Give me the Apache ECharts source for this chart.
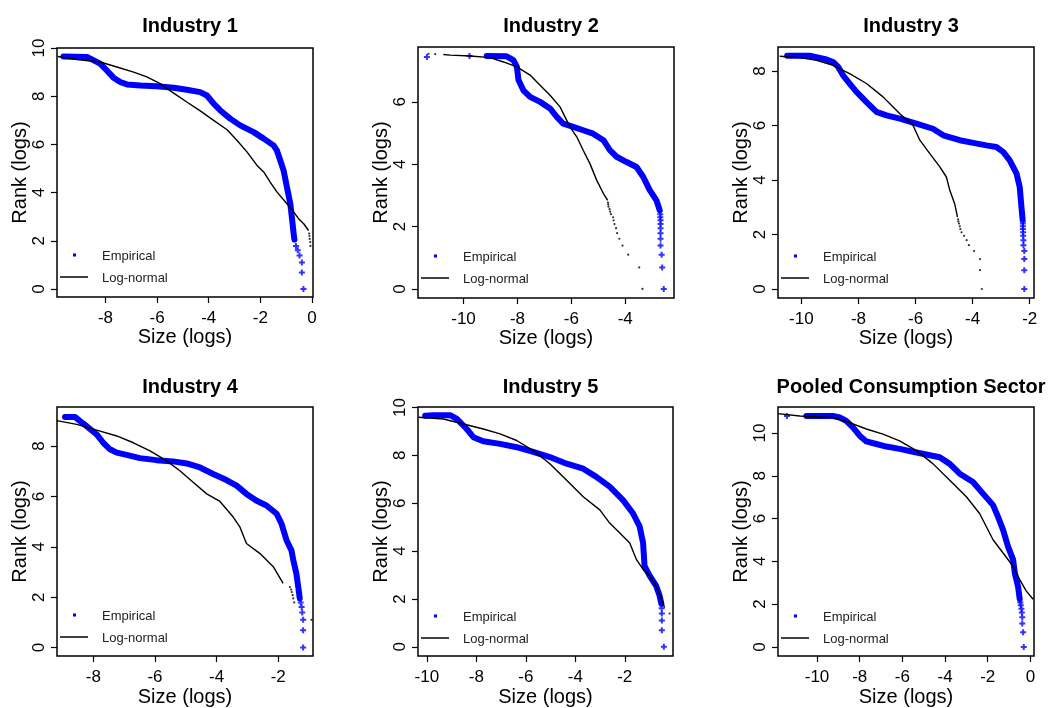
<!DOCTYPE html>
<html><head><meta charset="utf-8">
<script src="https://cdn.jsdelivr.net/npm/echarts@6/dist/echarts.min.js"></script>
<style>html,body{margin:0;padding:0;background:#fff}#chart{width:1049px;height:708px}</style>
</head><body><div id="chart"></div>
<script>
// ---------- DATA ----------
const panelTitles = ['Industry 1','Industry 2','Industry 3','Industry 4','Industry 5','Pooled Consumption Sector'];
const xAxisName = 'Size (logs)';
const yAxisName = 'Rank (logs)';
const legendNames = ['Empirical','Log-normal'];

const xTicks = [[-8,-6,-4,-2,0],[-10,-8,-6,-4],[-10,-8,-6,-4,-2],[-8,-6,-4,-2],[-10,-8,-6,-4,-2],[-10,-8,-6,-4,-2,0]];
const yTicks = [[0,2,4,6,8,10],[0,2,4,6],[0,2,4,6,8],[0,2,4,6,8],[0,2,4,6,8,10],[0,2,4,6,8,10]];

const emp1 = [[-9.63,9.65],[-8.72,9.63],[-8.21,9.35],[-7.95,9.07],[-7.69,8.77],[-7.43,8.59],[-7.17,8.49],[-6.65,8.44],[-6.01,8.41],[-5.36,8.35],[-4.85,8.27],[-4.33,8.17],[-4.07,8.03],[-3.81,7.69],[-3.55,7.41],[-3.17,7.07],[-2.78,6.79],[-2.26,6.51],[-1.87,6.24],[-1.49,5.96],[-1.36,5.75],[-1.23,5.34],[-1.10,4.92],[-0.97,4.23],[-0.84,3.54],[-0.78,2.99],[-0.71,2.30],[-0.68,2.05]];
const empTail1 = [[-0.62,1.79],[-0.55,1.61],[-0.48,1.39],[-0.39,1.10],[-0.39,0.69],[-0.33,0]];
const logn1 = [[-9.85,9.65],[-9.11,9.52],[-8.21,9.42],[-7.56,9.21],[-6.91,9.0],[-6.4,8.8],[-5.88,8.52],[-5.36,8.13],[-4.85,7.76],[-4.33,7.39],[-3.81,7.0],[-3.29,6.61],[-2.91,6.17],[-2.52,5.69],[-2.13,5.13],[-1.87,4.86],[-1.62,4.44],[-1.36,4.03],[-0.97,3.54],[-0.71,3.2],[-0.52,2.92],[-0.32,2.71],[-0.13,2.43]];
const lognTail1 = [[-0.11,2.30],[-0.10,2.20],[-0.09,2.08],[-0.07,1.95],[-0.06,1.79]];

const emp2 = [[-9.14,7.47],[-8.40,7.46],[-8.15,7.34],[-8.02,7.12],[-7.96,6.70],[-7.78,6.37],[-7.53,6.16],[-7.16,6.0],[-6.79,5.79],[-6.54,5.52],[-6.30,5.30],[-5.93,5.20],[-5.56,5.09],[-5.19,4.98],[-4.81,4.77],[-4.57,4.45],[-4.32,4.24],[-3.95,4.07],[-3.58,3.91],[-3.33,3.59],[-3.09,3.17],[-2.84,2.84],[-2.72,2.52]];
const empTail2 = [[-11.36,7.44],[-9.78,7.47],[-2.70,2.40],[-2.70,2.30],[-2.69,2.20],[-2.69,2.08],[-2.69,1.95],[-2.69,1.79],[-2.69,1.61],[-2.69,1.39],[-2.65,1.10],[-2.63,0.69],[-2.57,0]];
const logn2 = [[-10.75,7.52],[-10.49,7.5],[-9.75,7.47],[-9.01,7.42],[-8.52,7.28],[-8.02,7.12],[-7.53,6.86],[-7.16,6.53],[-6.79,6.21],[-6.42,5.84],[-6.05,5.20],[-5.80,4.88],[-5.56,4.45],[-5.31,4.02],[-5.06,3.49],[-4.81,3.06],[-4.65,2.84]];
const lognTail2 = [[-11.30,7.54],[-11.05,7.53],[-4.64,2.77],[-4.63,2.71],[-4.62,2.64],[-4.58,2.56],[-4.56,2.48],[-4.53,2.40],[-4.45,2.30],[-4.43,2.20],[-4.40,2.08],[-4.34,1.95],[-4.30,1.79],[-4.22,1.61],[-4.10,1.39],[-3.89,1.10],[-3.48,0.69],[-3.36,0]];

const emp3 = [[-10.5,8.56],[-9.71,8.56],[-9.12,8.42],[-8.89,8.33],[-8.71,8.15],[-8.54,7.84],[-8.31,7.54],[-8.07,7.23],[-7.72,6.86],[-7.37,6.50],[-7.02,6.37],[-6.55,6.25],[-5.97,6.07],[-5.39,5.88],[-5.03,5.64],[-4.45,5.46],[-3.98,5.36],[-3.52,5.27],[-3.17,5.21],[-2.93,5.03],[-2.70,4.72],[-2.46,4.23],[-2.35,3.74],[-2.29,3.01],[-2.25,2.56]];
const empTail3 = [[-2.24,2.48],[-2.24,2.40],[-2.24,2.30],[-2.24,2.20],[-2.23,2.08],[-2.23,1.95],[-2.22,1.79],[-2.22,1.61],[-2.19,1.39],[-2.19,1.10],[-2.19,0.69],[-2.19,0]];
const logn3 = [[-10.76,8.54],[-10.06,8.49],[-9.47,8.39],[-8.89,8.21],[-8.31,7.90],[-7.72,7.54],[-7.14,7.05],[-6.55,6.43],[-6.09,6.01],[-5.85,5.46],[-5.50,4.97],[-5.15,4.48],[-4.92,4.11],[-4.80,3.62],[-4.63,3.13],[-4.53,2.64]];
const lognTail3 = [[-4.51,2.56],[-4.50,2.48],[-4.48,2.40],[-4.45,2.30],[-4.43,2.20],[-4.39,2.08],[-4.30,1.95],[-4.21,1.79],[-4.13,1.61],[-3.95,1.39],[-3.74,1.10],[-3.74,0.69],[-3.68,0]];

const emp4 = [[-8.92,9.15],[-8.59,9.15],[-8.43,8.99],[-8.22,8.79],[-7.89,8.46],[-7.68,8.13],[-7.46,7.87],[-7.24,7.74],[-6.92,7.65],[-6.49,7.52],[-5.95,7.44],[-5.41,7.39],[-4.97,7.31],[-4.54,7.15],[-4.11,6.89],[-3.68,6.65],[-3.35,6.43],[-3.03,6.10],[-2.70,5.83],[-2.38,5.64],[-2.05,5.31],[-1.89,4.91],[-1.73,4.26],[-1.57,3.86],[-1.51,3.47],[-1.41,2.94],[-1.35,2.42],[-1.30,1.95]];
const empTail4 = [[-1.27,1.79],[-1.24,1.61],[-1.22,1.39],[-1.19,1.10],[-1.19,0.69],[-1.19,0]];
const logn4 = [[-9.19,9.01],[-8.54,8.86],[-7.78,8.59],[-7.24,8.40],[-6.70,8.13],[-6.16,7.81],[-5.62,7.41],[-5.19,7.02],[-4.76,6.56],[-4.32,6.10],[-3.89,5.80],[-3.46,5.18],[-3.24,4.78],[-3.03,4.13],[-2.59,3.73],[-2.16,3.21],[-1.84,2.55]];
const lognTail4 = [[-1.62,2.40],[-1.58,2.30],[-1.56,2.20],[-1.53,2.08],[-1.51,1.95],[-1.48,1.79],[-0.92,1.10]];

const emp5 = [[-10.07,9.65],[-9.73,9.68],[-9.06,9.68],[-8.79,9.52],[-8.39,9.10],[-8.12,8.76],[-7.72,8.59],[-7.04,8.48],[-6.37,8.34],[-5.70,8.14],[-5.03,7.93],[-4.35,7.65],[-3.68,7.44],[-3.15,7.10],[-2.61,6.69],[-2.07,6.13],[-1.67,5.58],[-1.40,5.03],[-1.26,4.34],[-1.20,3.37],[-0.99,2.96],[-0.73,2.54],[-0.59,2.13],[-0.52,1.79]];
const empTail5 = [[-0.51,1.61],[-0.50,1.39],[-0.50,1.10],[-0.50,0.69],[-0.42,0]];
const logn5 = [[-10.34,9.59],[-9.33,9.52],[-8.52,9.31],[-7.72,9.10],[-7.04,8.90],[-6.37,8.62],[-5.70,8.20],[-5.03,7.65],[-4.35,6.96],[-3.68,6.27],[-3.01,5.72],[-2.61,5.17],[-2.20,4.75],[-1.80,4.34],[-1.53,3.65],[-1.26,3.23],[-0.99,2.96],[-0.73,2.54],[-0.52,1.99],[-0.39,1.64]];
const lognTail5 = [[-0.19,1.39]];

const emp6 = [[-10.5,10.80],[-9.25,10.80],[-8.94,10.73],[-8.63,10.57],[-8.31,10.26],[-8.0,9.88],[-7.69,9.61],[-7.22,9.49],[-6.75,9.37],[-6.13,9.26],[-5.5,9.13],[-4.88,9.0],[-4.25,8.87],[-3.78,8.56],[-3.31,8.10],[-2.69,7.71],[-2.22,7.17],[-1.75,6.63],[-1.52,6.09],[-1.28,5.47],[-1.05,4.70],[-0.81,4.08],[-0.73,3.46],[-0.58,2.84],[-0.5,2.23]];
const empTail6 = [[-11.41,10.80],[-0.47,2.08],[-0.45,1.95],[-0.42,1.79],[-0.40,1.61],[-0.38,1.39],[-0.38,1.10],[-0.34,0.69],[-0.31,0]];
const logn6 = [[-11.83,10.91],[-10.81,10.80],[-9.25,10.73],[-8.47,10.49],[-7.69,10.19],[-6.91,9.95],[-6.13,9.64],[-5.34,9.18],[-4.56,8.56],[-3.78,7.79],[-3.0,7.02],[-2.38,6.24],[-1.75,5.01],[-1.28,4.39],[-0.81,3.77],[-0.5,3.15],[-0.19,2.61],[0.13,2.23]];
const lognTail6 = [];

const empirical = [emp1,emp2,emp3,emp4,emp5,emp6];
const empiricalTail = [empTail1,empTail2,empTail3,empTail4,empTail5,empTail6];
const lognormal = [logn1,logn2,logn3,logn4,logn5,logn6];
const lognormalTail = [lognTail1,lognTail2,lognTail3,lognTail4,lognTail5,lognTail6];

// ---------- LAYOUT ----------
const layout = [
  {l:57,t:48,w:256,h:249, xmin:-9.88,xmax:0.04,ymin:-0.33,ymax:10.0},
  {l:418,t:47,w:256,h:251, xmin:-11.69,xmax:-2.19,ymin:-0.29,ymax:7.76},
  {l:778,t:47,w:256,h:251, xmin:-10.82,xmax:-1.85,ymin:-0.33,ymax:8.88},
  {l:57,t:407,w:256,h:250, xmin:-9.18,xmax:-0.87,ymin:-0.34,ymax:9.55},
  {l:418,t:407,w:255,h:251, xmin:-10.36,xmax:-0.05,ymin:-0.39,ymax:10.02},
  {l:778,t:407,w:256,h:251, xmin:-11.83,xmax:0.17,ymin:-0.43,ymax:11.22}
];
const FONT = '"Liberation Sans", Arial, sans-serif';
const BLUE = '#0000ff';
const PLUS = 'path://M2,0H4V2H6V4H4V6H2V4H0V2H2Z';

const grids = [], xAxes = [], yAxes = [], series = [], titles = [], graphics = [];
layout.forEach((p, i) => {
  grids.push({left:p.l, top:p.t, width:p.w, height:p.h, show:true, borderColor:'#000', borderWidth:1.5, backgroundColor:'transparent'});
  xAxes.push({
    type:'value', gridIndex:i, min:p.xmin, max:p.xmax,
    name:xAxisName, nameLocation:'middle', nameGap:30,
    nameTextStyle:{fontFamily:FONT, fontSize:20, color:'#000'},
    axisLine:{show:false, onZero:false},
    axisTick:{show:true, length:6, customValues:xTicks[i], lineStyle:{color:'#000', width:1.2}},
    axisLabel:{customValues:xTicks[i], fontFamily:FONT, fontSize:17, color:'#000', margin:13},
    splitLine:{show:false}
  });
  yAxes.push({
    type:'value', gridIndex:i, min:p.ymin, max:p.ymax,
    name:yAxisName, nameLocation:'middle', nameGap:21, nameRotate:90,
    nameTextStyle:{fontFamily:FONT, fontSize:20, color:'#000'},
    axisLine:{show:false, onZero:false},
    axisTick:{show:true, length:6, customValues:yTicks[i], lineStyle:{color:'#000', width:1.2}},
    axisLabel:{customValues:yTicks[i], rotate:90, fontFamily:FONT, fontSize:17, color:'#000', margin:9},
    splitLine:{show:false}
  });
  series.push({
    name:legendNames[1], type:'line', xAxisIndex:i, yAxisIndex:i, data:lognormal[i],
    showSymbol:false, lineStyle:{color:'#000', width:1.4}, z:3, silent:true
  });
  series.push({
    name:legendNames[1], type:'scatter', xAxisIndex:i, yAxisIndex:i, data:lognormalTail[i],
    symbol:'circle', symbolSize:2.2, itemStyle:{color:'#000'}, z:3, silent:true
  });
  series.push({
    name:legendNames[0], type:'line', xAxisIndex:i, yAxisIndex:i, data:empirical[i],
    showSymbol:false, lineStyle:{color:BLUE, width:6, cap:'round', join:'round'}, z:2, silent:true
  });
  series.push({
    name:legendNames[0], type:'scatter', xAxisIndex:i, yAxisIndex:i, data:empiricalTail[i],
    symbol:PLUS, symbolSize:6, itemStyle:{color:BLUE}, z:2, silent:true
  });
  const row = i < 3 ? 0 : 1;
  titles.push({
    text:panelTitles[i], left:p.l + p.w/2, top: row === 0 ? 11 : 372, textAlign:'center',
    textStyle:{fontFamily:FONT, fontSize:20, fontWeight:'bold', color:'#000'}
  });
  const b = p.t + p.h;
  graphics.push({type:'rect', shape:{x:p.l+16, y:b-43.5, width:3, height:3}, style:{fill:BLUE}});
  graphics.push({type:'text', x:p.l+45, y:b-41, style:{text:legendNames[0], font:'13px ' + FONT, fill:'#222', verticalAlign:'middle'}});
  graphics.push({type:'line', shape:{x1:p.l+3, y1:b-20, x2:p.l+31, y2:b-20}, style:{stroke:'#000', lineWidth:1.5}});
  graphics.push({type:'text', x:p.l+45, y:b-19, style:{text:legendNames[1], font:'13px ' + FONT, fill:'#222', verticalAlign:'middle'}});
});

const chart = echarts.init(document.getElementById('chart'), null, {renderer:'canvas'});
chart.setOption({
  animation:false,
  backgroundColor:'#fff',
  title:titles,
  grid:grids, xAxis:xAxes, yAxis:yAxes, series:series,
  graphic:graphics
});
</script></body></html>
